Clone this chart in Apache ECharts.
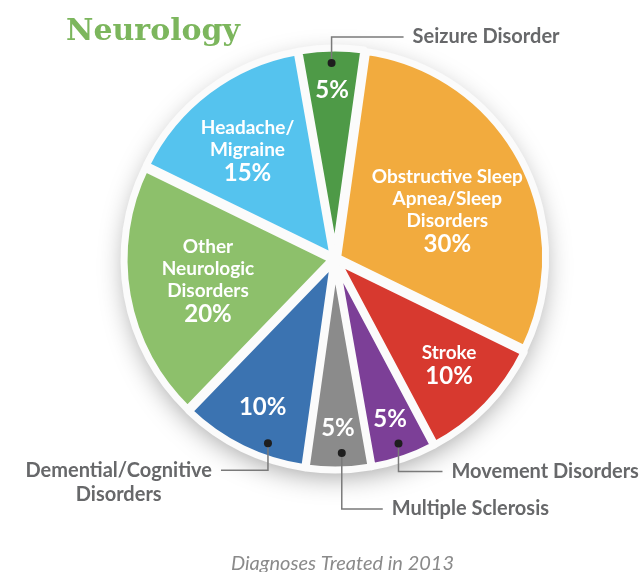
<!DOCTYPE html>
<html>
<head>
<meta charset="utf-8">
<title>Neurology</title>
<script src="https://cdn.jsdelivr.net/npm/echarts@6/dist/echarts.min.js"></script>
<style>
  html, body { margin: 0; padding: 0; background: #fff; }
  #neurologyPie { width: 639px; height: 572px; }
</style>
</head>
<body>
<div id="neurologyPie"></div>
<script>
// slices, clockwise from the top
var categories = ['Seizure Disorder', 'Obstructive Sleep Apnea/Sleep Disorders', 'Stroke', 'Movement Disorders',
  'Multiple Sclerosis', 'Demential/Cognitive Disorders', 'Other Neurologic Disorders', 'Headache/Migraine'];
var percents = [5, 30, 10, 5, 5, 10, 20, 15];
var innerNames = ['', 'Obstructive Sleep\nApnea/Sleep\nDisorders', 'Stroke', '', '', '', 'Other\nNeurologic\nDisorders', 'Headache/\nMigraine'];
var outerNames = ['Seizure Disorder', '', '', 'Movement Disorders', 'Multiple Sclerosis', 'Demential/Cognitive\nDisorders', '', ''];
var sliceColors = ['#4e9a47', '#f2ab3e', '#d7392f', '#7c3f97', '#8b8b8b', '#3b73b1', '#8dc06b', '#55c3ee'];

var CX = 335, CY = 259, R = 208
var START = -10 // compass degrees, where the first slice begins

// label placement (radius px, angle shift deg)
var innerLabelPos = [[169, 0], [122, 5], [156, -1], [169, 0], [169, 0], [165, 0], [129, 0], [139, -2]];
var dotPos = [[196, 0], null, null, [195, 0], [194, -1], [196, -6], null, null];
// leader: [vertical length, horizontal length]
var leaders = [[-26, 72], null, null, [28, 44], [56, 41], [27, -47], null, null];

function Page() {
  var _this = this;
  _this.init();
};

Page.prototype = {

  init: function () {
    var _this = this
    _this.total = percents.reduce(function (a, b) { return a + b }, 0)
    _this.initPie()
  },

  midAngle: function (i, shift) {
    var cum = 0
    for (var k = 0; k < i; k++) cum += percents[k]
    return START + 360 * (cum + percents[i] / 2) / this.total + (shift || 0)
  },

  point: function (r, deg) {
    var a = deg * Math.PI / 180
    return [CX + r * Math.sin(a), CY - r * Math.cos(a)]
  },

  // transparent copy of the pie, only used to carry labels
  overlay: function (z, data) {
    return {
      type: 'pie',
      silent: true,
      z: z,
      center: [CX, CY],
      radius: R,
      startAngle: 90 - START,
      clockwise: true,
      avoidLabelOverlap: false,
      itemStyle: { color: 'rgba(0,0,0,0)' },
      data: data
    }
  },

  initPie: function () {
    var _this = this
    var myChart = echarts.init(document.getElementById('neurologyPie'));

    var mainData = percents.map(function (v, i) {
      return { value: v, name: categories[i], selected: true, itemStyle: { color: sliceColors[i] } }
    })
    var innerData = percents.map(function (v, i) {
      return { value: v, name: categories[i] }
    })
    var outerData = percents.map(function (v, i) {
      var show = !!outerNames[i]
      return { value: v, name: categories[i], label: { show: show }, labelLine: { show: show } }
    })
    var dotData = percents.map(function (v, i) {
      return { value: v, name: categories[i], label: { show: !!dotPos[i] } }
    })

    var innerSeries = _this.overlay(3, innerData)
    innerSeries.label = {
      position: 'inside',
      align: 'center',
      verticalAlign: 'middle',
      formatter: function (p) {
        var pct = '{p|' + p.value + '%}'
        var name = innerNames[p.dataIndex]
        if (!name) return pct
        return name.split('\n').map(function (s) { return '{n|' + s + '}' }).join('\n') + '\n' + pct
      },
      rich: {
        n: { fontFamily: 'Lato', fontWeight: 'bold', fontSize: 19, lineHeight: 22, color: '#fff' },
        p: { fontFamily: 'Lato', fontWeight: 'bold', fontSize: 24, lineHeight: 25, color: '#fff' }
      }
    }
    innerSeries.labelLine = { show: false }
    innerSeries.labelLayout = function (p) {
      var pos = innerLabelPos[p.dataIndex]
      var pt = _this.point(pos[0], _this.midAngle(p.dataIndex, pos[1]))
      return { x: pt[0], y: pt[1], align: 'center', verticalAlign: 'middle' }
    }

    var outerSeries = _this.overlay(4, outerData)
    outerSeries.label = {
      position: 'outside',
      overflow: 'none',
      fontFamily: 'Lato',
      fontWeight: 'bold',
      fontSize: 20,
      lineHeight: 24,
      color: '#67686a',
      formatter: function (p) { return outerNames[p.dataIndex] }
    }
    outerSeries.labelLine = {
      show: true,
      lineStyle: { color: '#7a7a7a', width: 1.5 }
    }
    outerSeries.labelLayout = function (p) {
      var i = p.dataIndex
      if (!leaders[i]) return {}
      var dot = _this.point(dotPos[i][0], _this.midAngle(i, dotPos[i][1]))
      var lineY = dot[1] + leaders[i][0]
      var endX = dot[0] + leaders[i][1]
      var res = {
        y: lineY - 12,
        verticalAlign: 'top',
        labelLinePoints: [[dot[0], dot[1]], [dot[0], lineY], [endX, lineY]]
      }
      if (leaders[i][1] > 0) {
        res.x = endX + 9
        res.align = 'left'
      } else {
        res.x = endX - 9 - p.labelRect.width / 2
        res.align = 'center'
      }
      return res
    }

    var dotSeries = _this.overlay(5, dotData)
    dotSeries.label = {
      position: 'inside',
      formatter: ' ',
      fontSize: 8,
      lineHeight: 8,
      width: 8,
      height: 8,
      padding: 0,
      borderRadius: 4,
      backgroundColor: '#1e1e1e'
    }
    dotSeries.labelLine = { show: false }
    dotSeries.labelLayout = function (p) {
      var i = p.dataIndex
      if (!dotPos[i]) return {}
      var dot = _this.point(dotPos[i][0], _this.midAngle(i, dotPos[i][1]))
      return { x: dot[0], y: dot[1], align: 'center', verticalAlign: 'middle' }
    }

    var option = {
      animation: false,
      title: [
        {
          text: 'Neurology',
          left: 61,
          top: 12,
          textStyle: {
            fontFamily: 'DejaVu Serif',
            fontWeight: 'bold',
            fontSize: 30,
            color: '#7cb65d'
          }
        },
        {
          text: 'Diagnoses Treated in 2013',
          left: 226,
          top: 549,
          textStyle: {
            fontFamily: 'Lato',
            fontStyle: 'italic',
            fontWeight: 'normal',
            fontSize: 20,
            color: '#8a8a8a'
          }
        }
      ],
      series: [
        {
          // soft glow behind the pie
          type: 'pie',
          silent: true,
          center: [CX, CY + 3],
          radius: R,
          z: 1,
          label: { show: false },
          labelLine: { show: false },
          itemStyle: {
            color: '#fff',
            shadowBlur: 28,
            shadowOffsetY: 5,
            shadowColor: 'rgba(0,0,0,0.4)'
          },
          data: [{ value: 1, name: '' }]
        },
        {
          name: 'Neurology',
          type: 'pie',
          z: 2,
          center: [CX, CY],
          radius: R,
          startAngle: 90 - START,
          clockwise: true,
          selectedMode: 'multiple',
          selectedOffset: 3,
          emphasis: { disabled: true },
          itemStyle: {
            borderColor: '#fbfbfb',
            borderWidth: 7,
            borderJoin: 'round'
          },
          label: { show: false },
          labelLine: { show: false },
          data: mainData
        },
        innerSeries,
        outerSeries,
        dotSeries
      ]
    };

    myChart.setOption(option);
  }

}

var page = new Page();
</script>
</body>
</html>
